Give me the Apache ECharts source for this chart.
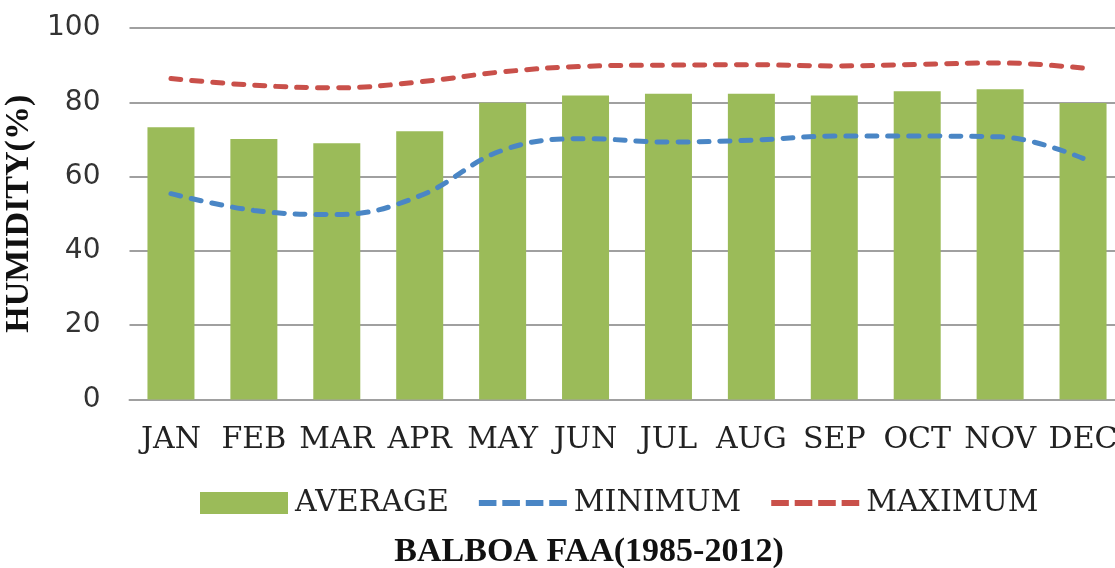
<!DOCTYPE html>
<html>
<head>
<meta charset="utf-8">
<script src="https://cdn.jsdelivr.net/npm/echarts@6/dist/echarts.min.js"></script>
<style>
  html, body { margin: 0; padding: 0; background: #fff; }
  #chart { width: 1115px; height: 568px; }
</style>
</head>
<body>
<div id="chart"></div>
<script>
var months = ['JAN', 'FEB', 'MAR', 'APR', 'MAY', 'JUN', 'JUL', 'AUG', 'SEP', 'OCT', 'NOV', 'DEC']
var average = [73.3, 70.1, 69.0, 72.2, 79.9, 81.8, 82.3, 82.3, 81.8, 83.0, 83.5, 79.8]
var minimum = [55.4, 50.9, 49.8, 54.8, 67.1, 70.2, 69.3, 69.8, 70.9, 70.9, 70.7, 64.9]
var maximum = [86.4, 84.6, 83.9, 85.5, 88.2, 89.7, 90.0, 90.1, 89.8, 90.2, 90.6, 89.2]

var serif = '"DejaVu Serif", serif'
var boldSerif = '"Liberation Serif", serif'
// four dashes, padded to the legend item box so they stay thin
var dashIcon = 'path://M0,0h0.1v0.1h-0.1z M0,8h18v6h-18z M24,8h18v6h-18z M48,8h18v6h-18z M72,8h18v6h-18z M89.9,21.9h0.1v0.1h-0.1z'

var myChart = echarts.init(document.querySelector('#chart'))
var option = {
  animation: false,
  title: {
    text: 'BALBOA FAA(1985-2012)',
    left: 584,
    textAlign: 'center',
    top: 530,
    textStyle: {
      fontFamily: boldSerif,
      fontWeight: 'bold',
      fontSize: 34,
      color: '#111'
    }
  },
  legend: {
    top: 488,
    left: 200,
    padding: 0,
    itemGap: 30,
    itemWidth: 88,
    itemHeight: 22,
    textStyle: {
      fontFamily: serif,
      fontSize: 30,
      color: '#222',
      padding: [0, 0, 0, 2]
    },
    data: [
      { name: 'AVERAGE', icon: 'rect' },
      { name: 'MINIMUM', icon: dashIcon },
      { name: 'MAXIMUM', icon: dashIcon }
    ]
  },
  grid: {
    left: 129.5,
    right: -9.5,
    top: 28,
    bottom: 168.5,
    containLabel: false,
    outerBoundsMode: 'none'
  },
  xAxis: {
    type: 'category',
    data: months,
    axisLine: { lineStyle: { color: '#a0a0a0', width: 2 } },
    axisTick: { show: false },
    axisLabel: {
      interval: 0,
      hideOverlap: false,
      margin: 26,
      fontFamily: serif,
      fontSize: 30,
      color: '#222'
    }
  },
  yAxis: {
    type: 'value',
    min: 0,
    max: 100,
    interval: 20,
    name: 'HUMIDITY(%)',
    nameLocation: 'middle',
    nameGap: 86,
    nameRotate: 90,
    nameTextStyle: {
      fontFamily: boldSerif,
      fontWeight: 'bold',
      fontSize: 34,
      color: '#111'
    },
    axisLine: { show: false },
    axisTick: { show: false },
    axisLabel: {
      margin: 29,
      fontFamily: '"DejaVu Sans", sans-serif',
      fontSize: 28,
      color: '#333'
    },
    splitLine: { lineStyle: { color: '#a0a0a0', width: 2 } }
  },
  series: [
    {
      name: 'AVERAGE',
      type: 'bar',
      data: average,
      barWidth: 47,
      itemStyle: { color: '#9BBB59' }
    },
    {
      name: 'MINIMUM',
      type: 'line',
      data: minimum,
      smooth: 0.4,
      showSymbol: false,
      symbol: 'none',
      itemStyle: { color: '#4A86C5' },
      lineStyle: { color: '#4A86C5', width: 5, type: [10, 11], cap: 'round' }
    },
    {
      name: 'MAXIMUM',
      type: 'line',
      data: maximum,
      smooth: 0.4,
      showSymbol: false,
      symbol: 'none',
      itemStyle: { color: '#C9504A' },
      lineStyle: { color: '#C9504A', width: 5, type: [10, 11], cap: 'round' }
    }
  ]
}
myChart.setOption(option)
window.addEventListener('resize', function() {
  myChart.resize()
})
</script>
</body>
</html>
